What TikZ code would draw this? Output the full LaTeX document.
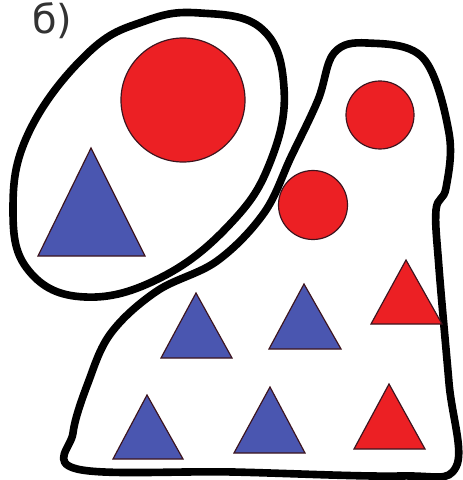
\documentclass[tikz,border=0pt]{standalone}
\usepackage{fontspec}
\setmainfont{DejaVu Sans}
\usepackage{xcolor}
\usetikzlibrary{positioning}

\definecolor{figred}{RGB}{236,32,36}
\definecolor{figblue}{RGB}{74,86,176}
\definecolor{figedge}{RGB}{60,20,30}

\begin{document}
\begin{tikzpicture}[
  x=0.03cm, y=-0.03cm,
  loop/.style={draw=black, line width=6.5pt, line join=round},
  ball/.style={circle, draw=figedge, line width=1pt, fill=figred, inner sep=0pt},
  bluetri/.style={draw=figedge, line width=1pt, fill=figblue, line join=miter},
  redtri/.style={draw=figedge, line width=1pt, fill=figred, line join=miter},
  tag/.style={font=\fontsize{34}{34}\selectfont, text=black!80, inner sep=0pt, anchor=base west}
]
\useasboundingbox (0,0) rectangle (462,480);
\fill[white] (0,0) rectangle (462,480);

% label
\node[tag] (lbl) at (32,34) {б)};

% left group
\draw[loop] plot[smooth cycle, tension=0.7] coordinates {
  (200,13) (262,29) (284,88) (271,160) (232,222) (162,277) (85,297)
  (29,271) (13,210) (29,132) (88,53) (145,21)};
\node[ball, minimum size=3.72cm] (bigball) at (183,100) {};
\draw[bluetri] (91,148) -- (145,256) -- (38,256) -- cycle;

% right group
\draw[loop] plot[smooth cycle, tension=0.6] coordinates {
  (367,43) (423,58) (449,133) (446,188) (436,210) (439,268) (449,383)
  (456,467) (400,476) (233,472) (77,469) (73,433) (88,383) (111,333)
  (157,291) (217,261) (264,213) (291,157) (318,100) (334,53)};
\node[ball, minimum size=2.04cm] (ballA) at (380,115) {};
\node[ball, minimum size=2.07cm] (ballB) at (313,205) {};

\draw[bluetri] (196,293) -- (232,358) -- (161,358) -- cycle;
\draw[bluetri] (304,284) -- (341,349) -- (269,349) -- cycle;
\draw[redtri]  (406,260) -- (442,324) -- (371,324) -- cycle;
\draw[bluetri] (147,395) -- (183,459) -- (113,459) -- cycle;
\draw[bluetri] (270,387) -- (305,453) -- (234,453) -- cycle;
\draw[redtri]  (389,384) -- (425,449) -- (354,449) -- cycle;
\end{tikzpicture}
\end{document}
